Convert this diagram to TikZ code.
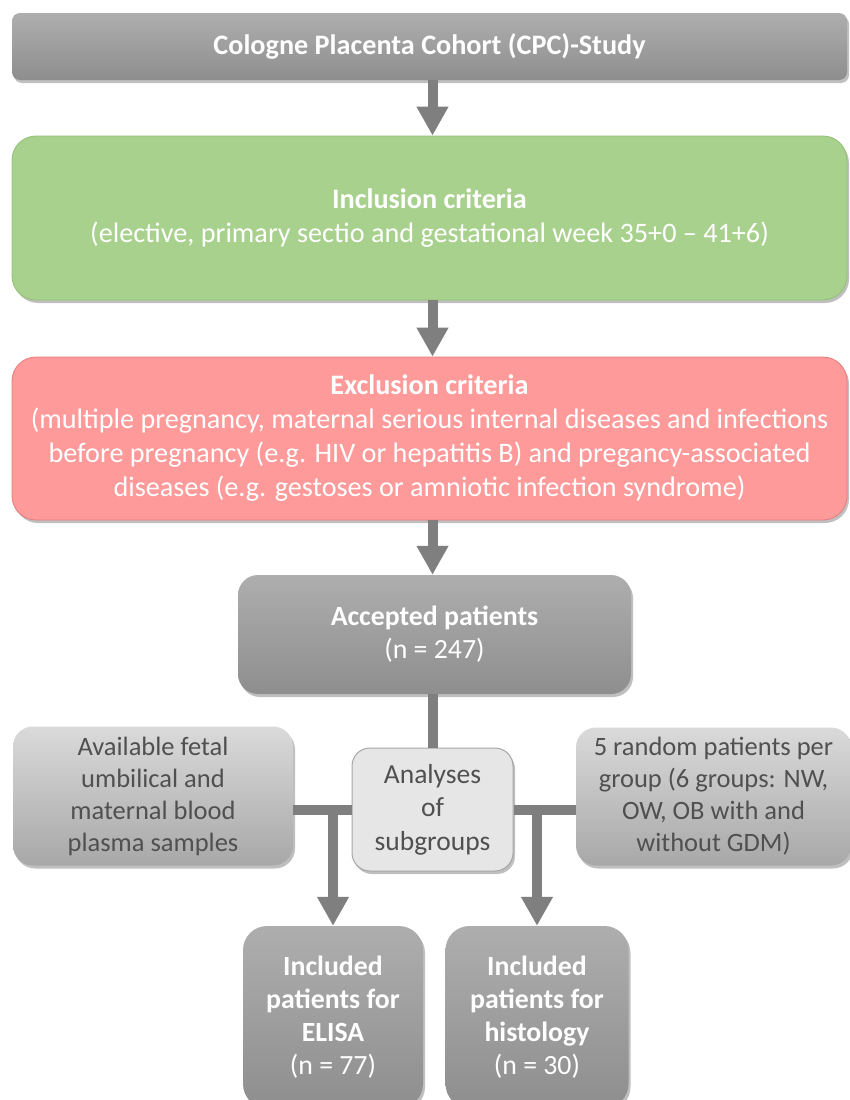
\documentclass[tikz,border=0pt]{standalone}
\usepackage{fontspec}
\setmainfont{Carlito}
\usetikzlibrary{arrows.meta,shadows,calc}
\definecolor{arrowgray}{HTML}{7F7F7F}
\definecolor{dtop}{HTML}{AEAEAE}
\definecolor{dbot}{HTML}{8E8E8E}
\definecolor{ltop}{HTML}{DADADA}
\definecolor{lbot}{HTML}{A8A8A8}
\definecolor{anafill}{HTML}{E6E6E6}
\definecolor{anadraw}{HTML}{A6A6A6}
\definecolor{inclfill}{HTML}{A9D18E}
\definecolor{incldraw}{HTML}{93BF74}
\definecolor{exclfill}{HTML}{FF9A9A}
\definecolor{excldraw}{HTML}{E57C7C}
\definecolor{sidetext}{HTML}{505050}
\begin{document}
\begin{tikzpicture}[x=1pt,y=-1pt,
  shd/.style={drop shadow={shadow xshift=2pt,shadow yshift=-3pt,opacity=0.25,fill=black}},
  darkbox/.style={shd,rectangle,rounded corners=#1,top color=dtop,bottom color=dbot,draw=none,
     text=white,align=center,inner sep=0pt},
  sidebox/.style={shd,rectangle,rounded corners=20pt,top color=ltop,bottom color=lbot,draw=none,
     text=sidetext,align=center,inner sep=0pt,font=\fontsize{26.5}{32}\selectfont},
  bigfont/.style={font=\fontsize{28.2}{34}\selectfont},
  midfont/.style={font=\fontsize{27.8}{33}\selectfont},
  flow/.style={draw=arrowgray,line width=10pt,-{Triangle[width=30pt,length=29pt]}},
  link/.style={draw=arrowgray,line width=10pt}]
\useasboundingbox (0,0) rectangle (849,1100);
\fill[white] (0,0) rectangle (849,1100);

\node[darkbox=8pt,bigfont,minimum width=835pt,minimum height=67pt] (top) at (429.5,46.5)
  {\bfseries Cologne Placenta Cohort (CPC)-Study};

\node[shd,rectangle,rounded corners=24pt,fill=inclfill,draw=incldraw,line width=0.8pt,text=white,
  align=center,inner sep=0pt,bigfont,minimum width=835pt,minimum height=164pt] (incl) at (429.5,218)
  {\raisebox{-5pt}{\textbf{Inclusion criteria}}\\\raisebox{-5pt}{(elective, primary sectio and gestational week 35+0 -- 41+6)}};

\node[shd,rectangle,rounded corners=24pt,fill=exclfill,draw=excldraw,line width=0.8pt,text=white,
  align=center,inner sep=0pt,bigfont,minimum width=835pt,minimum height=163pt] (excl) at (429.5,438.5)
  {\textbf{Exclusion criteria}\\(multiple pregnancy, maternal serious internal diseases and infections\\
   before pregnancy (e.g. HIV or hepatitis B) and pregancy-associated\\
   diseases (e.g. gestoses or amniotic infection syndrome)};

\node[darkbox=20pt,midfont,minimum width=393pt,minimum height=119pt] (acc) at (434.5,634.5)
  {\textbf{Accepted patients}\\(n = 247)};

\node[sidebox,minimum width=280pt,minimum height=139pt] (left) at (153,796)
  {Available fetal\\umbilical and\\maternal blood\\plasma samples};

\node[shd,rectangle,rounded corners=18pt,fill=anafill,draw=anadraw,line width=1pt,text=sidetext,
  align=center,inner sep=0pt,font=\fontsize{27.5}{33.5}\selectfont,
  minimum width=161pt,minimum height=123pt] (anal) at (432.5,809.5)
  {Analyses\\of\\subgroups};

\node[sidebox,minimum width=275pt,minimum height=138pt] (right) at (713.5,796.5)
  {5 random patients per\\group (6 groups: NW,\\OW, OB with and\\without GDM)};

\node[darkbox=24pt,midfont,minimum width=180pt,minimum height=182pt] (elisa) at (333,1017)
  {\textbf{Included}\\\textbf{patients for}\\\textbf{ELISA}\\(n = 77)};

\node[darkbox=24pt,midfont,minimum width=183pt,minimum height=182pt] (hist) at (537,1017)
  {\textbf{Included}\\\textbf{patients for}\\\textbf{histology}\\(n = 30)};

% connectors
\draw[flow] (anal.north |- top.south) -- (anal.north |- incl.north);
\draw[flow] (anal.north |- incl.south) -- (anal.north |- excl.north);
\draw[flow] (anal.north |- excl.south) -- (anal.north |- acc.north);
\draw[link] (anal.north |- acc.south) -- (anal.north);
\draw[link] (left.east |- anal.west) -- (anal.west);
\draw[link] (anal.east) -- (right.west |- anal.east);
\draw[flow] ($(elisa.north |- anal.west)+(0,-5)$) -- (elisa.north);
\draw[flow] ($(hist.north |- anal.east)+(0,-5)$) -- (hist.north);
\end{tikzpicture}
\end{document}
